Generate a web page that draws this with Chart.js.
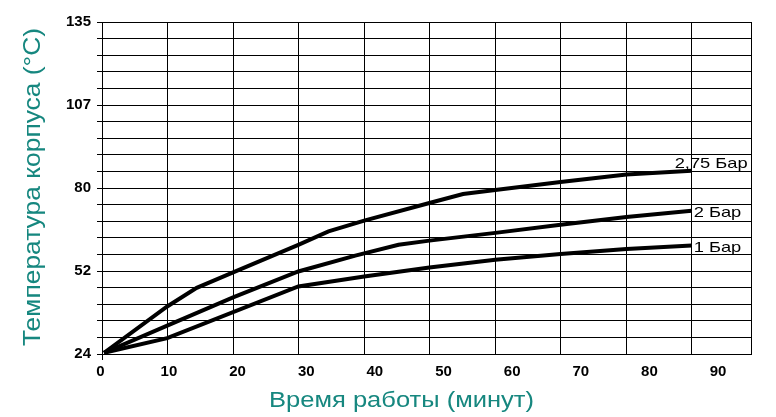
<!DOCTYPE html>
<html>
<head>
<meta charset="utf-8">
<script src="https://cdn.jsdelivr.net/npm/chart.js@4.4.1/dist/chart.umd.min.js"></script>
<style>
  html, body { margin: 0; padding: 0; background: #fff; }
  #wrap { width: 776px; height: 417px; position: relative; }
</style>
</head>
<body>
<div id="wrap"><canvas id="c"></canvas></div>
<script>
// ---- Data ----
const seriesNames = ['1 Бар', '2 Бар', '2,75 Бар'];

const time1 = [0.3, 9.5, 28.6, 38.2, 47.7, 57.3, 66.8, 76.4, 85.9];
const temp1 = [24.4, 29.3, 46.6, 49.9, 52.9, 55.5, 57.4, 59.1, 60.3];

const time2 = [0.3, 9.5, 19.1, 28.6, 36.9, 43.2, 47.7, 57.3, 66.8, 76.4, 85.9];
const temp2 = [24.4, 33.5, 42.9, 51.6, 56.9, 60.5, 61.9, 64.5, 67.2, 69.8, 71.9];

const time3 = [0.3, 9.5, 13.8, 19.1, 28.6, 33.0, 38.2, 47.7, 52.6, 57.3, 66.8, 76.4, 85.9];
const temp3 = [24.4, 39.9, 46.1, 51.3, 60.5, 65.0, 68.6, 74.5, 77.5, 78.8, 81.5, 84.0, 85.3];

const xTickValues = [0, 10, 20, 30, 40, 50, 60, 70, 80, 90];
const xTickLabels = ['0', '10', '20', '30', '40', '50', '60', '70', '80', '90'];
const yTickValues = [24, 51.75, 79.5, 107.25, 135];
const yTickLabels = ['24', '52', '80', '107', '135'];

const xTitle = 'Время работы (минут)';
const yTitle = 'Температура корпуса (°C)';

// ---- Layout / style ----
const TEAL = '#16877f';
const TICK_FONT = { family: 'Liberation Sans', size: 15, weight: 'bold' };
const Y_MIN = 24, Y_MAX = 135, Y_DIV = 20;
const X_MAX = 94.55;
const X_GRID_MAX = 9.908;

function toPoints(xs, ys) { return xs.map((x, i) => ({ x: x, y: ys[i] })); }

const seriesData = [toPoints(time1, temp1), toPoints(time2, temp2), toPoints(time3, temp3)];

const endLabelOffsets = [
  { dx: 2, dy: 6.5 },
  { dx: 2, dy: 6.5 },
  { dx: -17, dy: -2.5 }
];

const decorPlugin = {
  id: 'decor',
  afterDraw(chart) {
    const ctx = chart.ctx;
    const area = chart.chartArea;
    // end labels
    ctx.save();
    ctx.fillStyle = '#000';
    ctx.font = '15px "Liberation Sans", Arial, sans-serif';
    ctx.textAlign = 'left';
    ctx.textBaseline = 'alphabetic';
    chart.data.datasets.forEach((ds, i) => {
      const meta = chart.getDatasetMeta(i);
      const pt = meta.data[meta.data.length - 1];
      const off = endLabelOffsets[i];
      ctx.save();
      ctx.translate(pt.x + off.dx, pt.y + off.dy);
      ctx.scale(1.22, 1);
      ctx.fillText(seriesNames[i], 0, 0);
      ctx.restore();
    });
    ctx.restore();

    // x title
    ctx.save();
    ctx.fillStyle = TEAL;
    ctx.font = '22px "Liberation Sans", Arial, sans-serif';
    ctx.textAlign = 'center';
    ctx.textBaseline = 'alphabetic';
    ctx.translate((area.left + area.right) / 2 - 25, 406.5);
    ctx.scale(1.16, 1);
    ctx.fillText(xTitle, 0, 0);
    ctx.restore();

    // y title
    ctx.save();
    ctx.fillStyle = TEAL;
    ctx.font = '24px "Liberation Sans", Arial, sans-serif';
    ctx.textAlign = 'center';
    ctx.textBaseline = 'alphabetic';
    ctx.translate(40, 187);
    ctx.rotate(-Math.PI / 2);
    ctx.scale(1.1, 1);
    ctx.fillText(yTitle, 0, 0);
    ctx.restore();
  }
};

new Chart(document.getElementById('c'), {
  type: 'line',
  data: {
    datasets: seriesData.map((d, i) => ({
      label: seriesNames[i],
      data: d,
      borderColor: '#000',
      backgroundColor: '#000',
      borderWidth: 4,
      pointRadius: 0,
      pointHoverRadius: 0,
      tension: 0,
      fill: false,
      xAxisID: 'x',
      yAxisID: 'y'
    }))
  },
  options: {
    responsive: true,
    maintainAspectRatio: false,
    animation: false,
    events: [],
    layout: { padding: { top: 22, right: 25, left: 0, bottom: 0 } },
    plugins: { legend: { display: false }, tooltip: { enabled: false } },
    scales: {
      x: {
        type: 'linear',
        position: 'bottom',
        min: 0,
        max: X_MAX,
        afterBuildTicks: (s) => { s.ticks = xTickValues.map(v => ({ value: v })); },
        afterFit: (s) => { s.height = 63; },
        ticks: {
          autoSkip: false,
          maxRotation: 0,
          color: '#000',
          font: TICK_FONT,
          padding: 3,
          labelOffset: -1.7,
          callback: (v, i) => xTickLabels[i]
        },
        grid: {
          drawOnChartArea: false,
          tickLength: 6,
          color: (c) => (c.tick && c.tick.value === 0) ? '#000' : 'rgba(0,0,0,0)'
        },
        border: { display: true, color: '#000', width: 1 }
      },
      xg: {
        type: 'linear',
        position: 'bottom',
        min: 0,
        max: X_GRID_MAX,
        afterBuildTicks: (s) => {
          const t = [];
          for (let i = 0; i <= 9; i++) t.push({ value: i });
          t.push({ value: X_GRID_MAX });
          s.ticks = t;
        },
        afterFit: (s) => { s.height = 0; },
        ticks: { display: false },
        grid: { color: '#000', lineWidth: 1, drawTicks: false },
        border: { display: false }
      },
      y: {
        type: 'linear',
        position: 'left',
        min: Y_MIN,
        max: Y_MAX,
        afterBuildTicks: (s) => {
          const t = [];
          for (let i = 0; i <= Y_DIV; i++) t.push({ value: Y_MIN + i * (Y_MAX - Y_MIN) / Y_DIV });
          s.ticks = t;
        },
        afterFit: (s) => { s.width = 102; },
        ticks: {
          autoSkip: false,
          color: '#000',
          font: TICK_FONT,
          padding: 6,
          callback: (v) => {
            const j = yTickValues.findIndex(tv => Math.abs(tv - v) < 1e-6);
            return j >= 0 ? yTickLabels[j] : '';
          }
        },
        grid: { color: '#000', lineWidth: 1, tickLength: 5 },
        border: { display: true, color: '#000', width: 1 }
      }
    }
  },
  plugins: [decorPlugin]
});
</script>
</body>
</html>
